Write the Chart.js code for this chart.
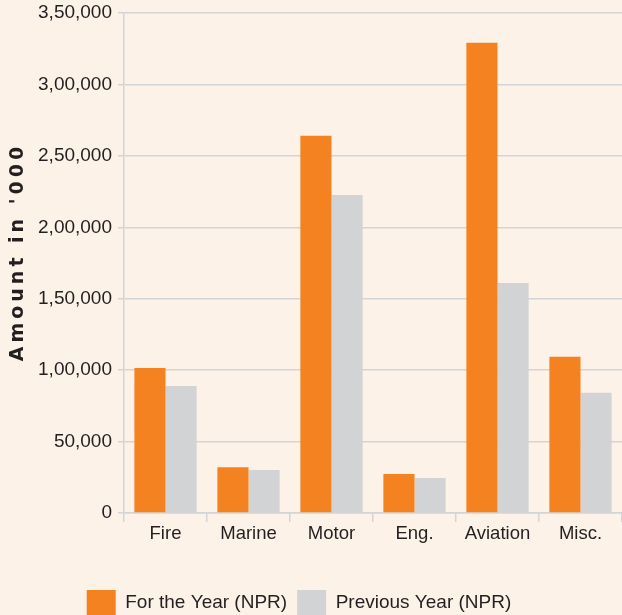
<!DOCTYPE html>
<html>
<head>
<meta charset="utf-8">
<script src="https://cdn.jsdelivr.net/npm/chart.js@4"></script>
<style>
  html, body { margin: 0; padding: 0; background: #fdf2e8; }
  #wrap { width: 622px; height: 615px; }
</style>
</head>
<body>
<div id="wrap"><canvas id="premiumChart"></canvas></div>
<script>
let categories = ["Fire", "Marine", "Motor", "Eng.", "Aviation", "Misc."]
let forTheYear = [101500, 32000, 264000, 27300, 329200, 109400]
let previousYear = [88900, 30100, 222600, 24500, 161000, 84200]
let seriesNames = ["For the Year (NPR)", "Previous Year (NPR)"]
let axisTitle = "Amount in '000"

let textColor = "#231f20"
let gridColor = "#d3d4d6"

// 350000 -> 3,50,000
function indianFormat(n) {
    let s = String(Math.round(n))
    if (s.length <= 3) return s
    let last = s.slice(-3)
    let rest = s.slice(0, -3)
    rest = rest.replace(/\B(?=(\d{2})+(?!\d))/g, ",")
    return rest + "," + last
}

let background = {
    id: "background",
    beforeDraw(chart) {
        let ctx = chart.ctx
        ctx.save()
        ctx.fillStyle = "#fdf2e8"
        ctx.fillRect(0, 0, chart.width, chart.height)
        ctx.restore()
    }
}

// legend sits a little left of centre in the original
let legendShift = {
    id: "legendShift",
    afterLayout(chart) {
        chart.legend.left -= 12
        chart.legend.right -= 12
    }
}

let yTitle = {
    id: "yTitle",
    afterDraw(chart) {
        let ctx = chart.ctx
        ctx.save()
        ctx.translate(23, 252)
        ctx.rotate(-Math.PI / 2)
        ctx.font = "bold 19px 'DejaVu Sans'"
        ctx.letterSpacing = "4px"
        ctx.fillStyle = textColor
        ctx.textAlign = "center"
        ctx.textBaseline = "alphabetic"
        ctx.fillText(axisTitle, 0, 0)
        ctx.restore()
    }
}

new Chart(document.getElementById("premiumChart"), {
    type: "bar",
    data: {
        labels: categories,
        datasets: [
            {
                label: seriesNames[0],
                data: forTheYear,
                backgroundColor: "#f58220"
            },
            {
                label: seriesNames[1],
                data: previousYear,
                backgroundColor: "#d1d3d4"
            }
        ]
    },
    options: {
        responsive: true,
        maintainAspectRatio: false,
        animation: false,
        categoryPercentage: 0.75,
        barPercentage: 1,
        layout: {
            padding: { top: 13, right: 0, bottom: -10, left: 0 }
        },
        plugins: {
            tooltip: { enabled: false },
            legend: {
                position: "bottom",
                labels: {
                    boxWidth: 29,
                    boxHeight: 25,
                    padding: 10,
                    color: textColor,
                    font: { family: "'Liberation Sans', Arial", size: 19 }
                }
            }
        },
        scales: {
            x: {
                afterFit(scale) { scale.height = 67 },
                grid: {
                    offset: true,
                    drawOnChartArea: false,
                    drawTicks: true,
                    tickLength: 9,
                    color: gridColor,
                    lineWidth: 1.5
                },
                border: { color: gridColor, width: 1.5 },
                ticks: {
                    color: textColor,
                    padding: 1,
                    font: { family: "'Liberation Sans', Arial", size: 18.5 }
                }
            },
            y: {
                min: 0,
                max: 350000,
                afterFit(scale) {
                    scale.width = 124
                    scale.paddingTop = 0
                    scale.paddingBottom = 0
                },
                grid: {
                    color: gridColor,
                    lineWidth: 1.5,
                    tickLength: 6
                },
                border: { color: gridColor, width: 1.5 },
                ticks: {
                    stepSize: 50000,
                    padding: 6,
                    color: textColor,
                    font: { family: "'Liberation Sans', Arial", size: 19 },
                    callback: function (value) { return indianFormat(value) }
                }
            }
        }
    },
    plugins: [background, legendShift, yTitle]
})
</script>
</body>
</html>
